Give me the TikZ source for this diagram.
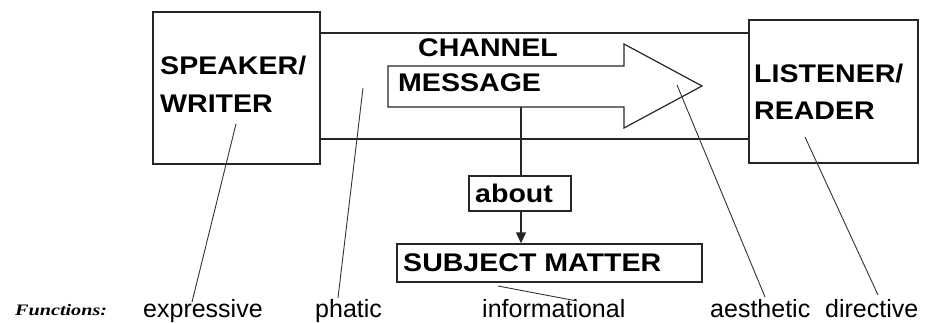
\documentclass[tikz,border=0pt]{standalone}
\usepackage{fontspec}
\setmainfont{Liberation Sans}
\newfontfamily\boxfont[FakeStretch=1.12]{Liberation Sans}
\newfontfamily\fnfont{Liberation Serif}
\usetikzlibrary{arrows.meta}

\tikzset{
  box/.style={draw=black!85, line width=1.4pt, inner sep=0pt},
  heading/.style={inner sep=0pt, anchor=base west,
    font=\boxfont\bfseries\fontsize{25.5}{30}\selectfont},
  func/.style={inner sep=0pt, anchor=base west,
    font=\fontsize{25}{30}\selectfont},
  wire/.style={draw=black!85, line width=1.2pt},
  pointer/.style={draw=black!80, line width=0.9pt}
}

\begin{document}
\begin{tikzpicture}[x=1pt, y=-1pt]
  \useasboundingbox (0,0) rectangle (943,323);

  % participants
  \node[box, minimum width=167pt, minimum height=152pt] (spk) at (236.5,88) {};
  \node[box, minimum width=169pt, minimum height=143pt] (lis) at (833.5,91.5) {};
  \node[heading] (spk1) at (160,75) {SPEAKER/};
  \node[heading] (spk2) at (160,113) {WRITER};
  \node[heading] (lis1) at (754,83) {LISTENER/};
  \node[heading] (lis2) at (754,120) {READER};

  % channel between the two boxes
  \draw[wire] (spk.east |- 0,33) -- (lis.west |- 0,33);
  \draw[wire] (spk.east |- 0,139) -- (lis.west |- 0,139);
  \node[heading] (chan) at (418,57) {CHANNEL};

  % message arrow
  \draw[wire] (388,66) -- (624,66) -- (624,44) -- (702,86) -- (624,128)
    -- (624,107) -- (388,107) -- cycle;
  \node[heading] (msg) at (398,92) {MESSAGE};
  \coordinate (msgb) at (521,107);

  % about / subject matter
  \node[box, minimum width=102pt, minimum height=35pt] (about) at (520,193.5) {};
  \node[heading] (abouttxt) at (475,203) {about};
  \node[box, minimum width=305pt, minimum height=38pt] (subj) at (549.5,263) {};
  \node[heading] (subjtxt) at (403,272) {SUBJECT MATTER};
  \draw[wire] (msgb) -- (msgb |- about.north);
  \draw[wire, -{Triangle[length=11pt,width=10pt]}] (msgb |- about.south) -- (msgb |- subj.north);

  % functions
  \node[inner sep=0pt, anchor=base west] (fn) at (15,316)
    {\fnfont\bfseries\itshape\fontsize{16}{18}\selectfont\scalebox{1.26}[1]{Functions:}};
  \node[func] (fexp) at (143,317) {expressive};
  \node[func] (fpha) at (315,317) {phatic};
  \node[func] (finf) at (482,317) {informational};
  \node[func] (faes) at (710,317) {aesthetic};
  \node[func] (fdir) at (825,317) {directive};

  % pointers from each function to its component
  \coordinate (pexpA) at (236,124);  \coordinate (pexpB) at (192,302);
  \coordinate (pphaA) at (363,88);   \coordinate (pphaB) at (338,298);
  \coordinate (pinfA) at (498,286);  \coordinate (pinfB) at (577,301);
  \coordinate (paesA) at (677,85);   \coordinate (paesB) at (765,297);
  \coordinate (pdirA) at (805,137);  \coordinate (pdirB) at (878,295);
  \draw[pointer] (pexpA) -- (pexpB);
  \draw[pointer] (pphaA) -- (pphaB);
  \draw[pointer] (pinfA) -- (pinfB);
  \draw[pointer] (paesA) -- (paesB);
  \draw[pointer] (pdirA) -- (pdirB);
\end{tikzpicture}
\end{document}
